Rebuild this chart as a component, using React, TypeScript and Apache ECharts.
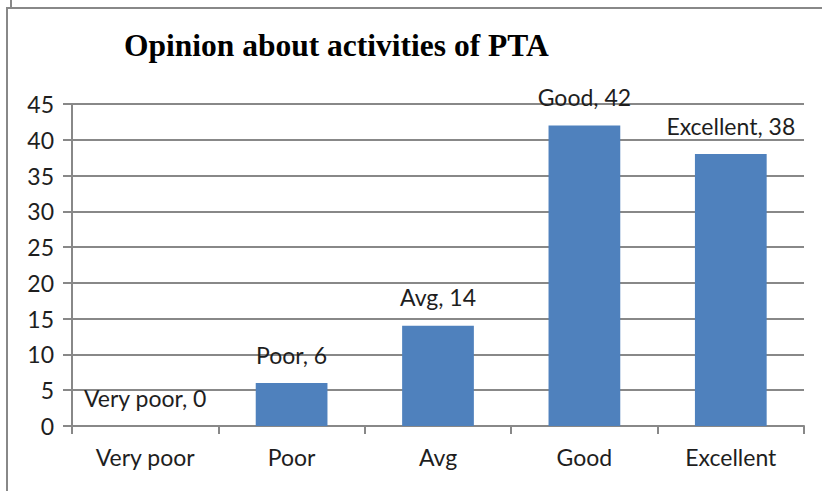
import React, { useEffect, useRef } from "react";
import * as echarts from "echarts";

const categories = ["Very poor", "Poor", "Avg", "Good", "Excellent"];
const counts = [0, 6, 14, 42, 38];
const yMin = 0;
const yMax = 45;
const yStep = 5;
const titleText = "Opinion about activities of PTA";

const FONT = "Lato";
const GRAY = "#888888";

export default function App() {
  const ref = useRef<HTMLDivElement>(null);
  useEffect(() => {
    if (!ref.current) return;
    const chart = echarts.init(ref.current, null, { renderer: "svg" });
    chart.setOption({
      animation: false,
      backgroundColor: "#ffffff",
      title: {
        text: titleText,
        left: 124,
        top: 29,
        padding: 0,
        textStyle: {
          fontFamily: "Liberation Serif",
          fontWeight: "bold",
          fontSize: 31.5,
          color: "#000",
        },
      },
      graphic: [
        {
          type: "line",
          shape: { x1: 7, y1: 8, x2: 822, y2: 8 },
          style: { stroke: GRAY, lineWidth: 2 },
        },
        {
          type: "line",
          shape: { x1: 7, y1: 7, x2: 7, y2: 491 },
          style: { stroke: GRAY, lineWidth: 2 },
        },
        {
          type: "line",
          shape: { x1: 11, y1: 0, x2: 11, y2: 7 },
          style: { stroke: GRAY, lineWidth: 2 },
        },
      ],
      grid: { left: 72, right: 18, top: 104, bottom: 65, containLabel: false },
      xAxis: {
        type: "category",
        data: categories,
        boundaryGap: true,
        axisLine: { show: true, lineStyle: { color: GRAY, width: 2 } },
        axisTick: { show: true, length: 8, alignWithLabel: false, lineStyle: { color: GRAY, width: 2 } },
        axisLabel: { fontFamily: FONT, fontSize: 23, color: "#1e1e1e", margin: 19 },
      },
      yAxis: {
        type: "value",
        min: yMin,
        max: yMax,
        interval: yStep,
        axisLine: { show: true, lineStyle: { color: GRAY, width: 2 } },
        axisTick: { show: true, length: 9, lineStyle: { color: GRAY, width: 2 } },
        axisLabel: { fontFamily: FONT, fontSize: 23, color: "#1e1e1e", margin: 18 },
        splitLine: { show: true, lineStyle: { color: GRAY, width: 2 } },
      },
      series: [
        {
          type: "bar",
          data: counts,
          barWidth: "49%",
          itemStyle: { color: "#4f81bd" },
          label: {
            show: true,
            position: "top",
            distance: 17,
            formatter: "{b}, {c}",
            fontFamily: FONT,
            fontSize: 23,
            color: "#1e1e1e",
          },
        },
      ],
    });
    return () => chart.dispose();
  }, []);
  return (
    <div
      ref={ref}
      style={{ position: "fixed", left: 0, top: 0, width: 822, height: 491 }}
    />
  );
}
